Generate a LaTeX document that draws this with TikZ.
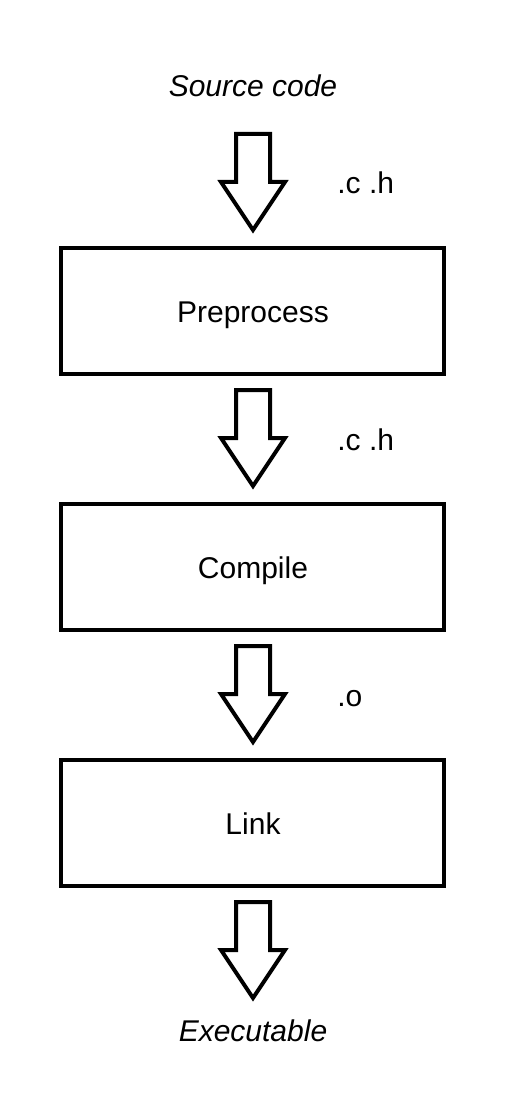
\documentclass[tikz,border=0pt]{standalone}
\usepackage{fontspec}
\setmainfont{Liberation Sans}
\begin{document}
\begin{tikzpicture}[x=0.5pt,y=-0.5pt,
  stagebox/.style={draw,line width=2pt,fill=white},
  arrowline/.style={draw,line width=2pt,line join=miter},
  txt/.style={font=\fontsize{15pt}{18pt}\selectfont,inner sep=0pt},
  io/.style={txt,font=\fontsize{15pt}{18pt}\selectfont\itshape},
  blockarrow/.pic={\draw[arrowline] (-17,0) -- (17,0) -- (17,48) -- (32,48) -- (0,96) -- (-32,48) -- (-17,48) -- cycle;}
]
\useasboundingbox (0,0) rectangle (506,1118);
% stages
\draw[stagebox] (61,248) rectangle (444,374);
\draw[stagebox] (61,504) rectangle (444,630);
\draw[stagebox] (61,760) rectangle (444,886);
\node[txt,anchor=base] (pre) at (253,322) {Preprocess};
\node[txt,anchor=base] (comp) at (253,578) {Compile};
\node[txt,anchor=base] (link) at (253,834) {Link};
% inputs / outputs
\node[io,anchor=base] (src) at (253,97) {Source code};
\node[io,anchor=base] (exe) at (253,1041) {Executable};
% block arrows
\pic at (253,134) {blockarrow};
\pic at (253,390) {blockarrow};
\pic at (253,646) {blockarrow};
\pic at (253,902) {blockarrow};
% labels
\node[txt,anchor=base west] (l1) at (337,194) {.c .h};
\node[txt,anchor=base west] (l2) at (337,450) {.c .h};
\node[txt,anchor=base west] (l3) at (337,706) {.o};
\end{tikzpicture}
\end{document}
